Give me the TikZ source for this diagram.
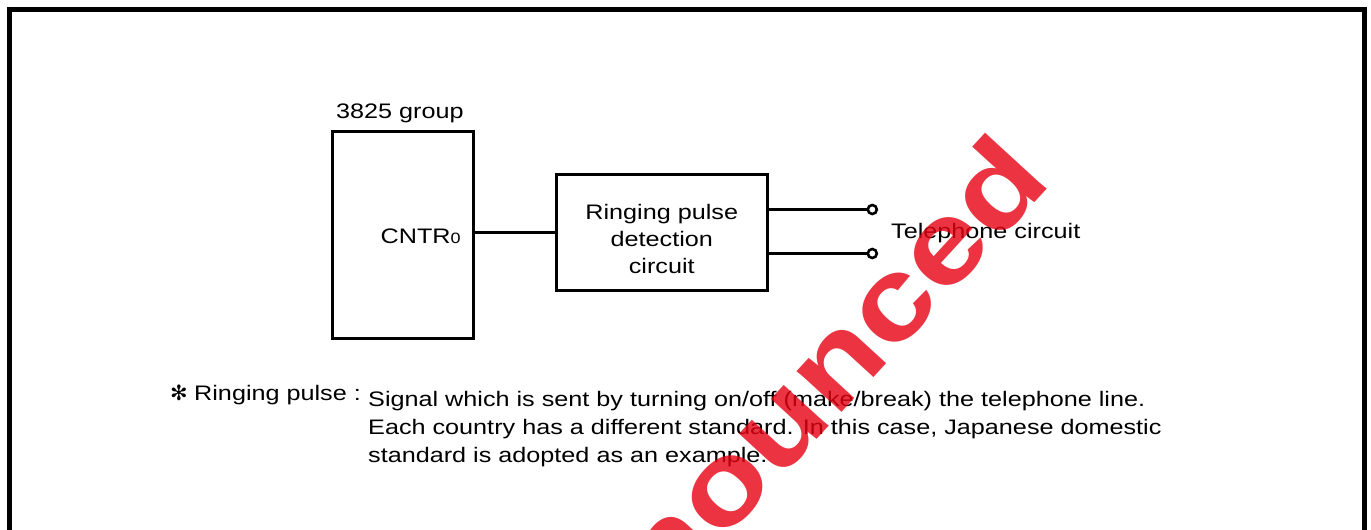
\documentclass[tikz,border=0pt]{standalone}
\usepackage{fontspec}
\setmainfont[FakeStretch=1.2]{Liberation Sans}
\newfontfamily\dingfont{DejaVu Sans}
\usetikzlibrary{calc}
\definecolor{stampred}{RGB}{230,0,18}

\begin{document}
\begin{tikzpicture}[x=1pt,y=-1pt,
    every node/.style={inner sep=0pt,font=\fontsize{21}{27}\selectfont},
    blk/.style={draw,line width=3pt},
    wire/.style={line width=3pt},
    term/.style={draw,circle,line width=2.6pt,minimum size=9pt,fill=white}]
  \useasboundingbox (0,0) rectangle (1371,530);
  \draw[line width=5pt] (9.5,9.5) rectangle (1364.5,560);
  % 3825 side
  \node[blk,minimum width=140.5pt,minimum height=206.5pt] (grp) at (402.75,234.75) {};
  \node[anchor=base west] (grplbl) at (336,118.5) {3825 group};
  \node[anchor=base west] (cntr) at (380.5,243.3) {CNTR{\fontsize{15}{15}\selectfont 0}};
  % detection circuit
  \node[blk,minimum width=210.5pt,minimum height=116pt] (det) at (661.75,232.5) {};
  \node[align=center,yshift=-6pt] (detlbl) at (det.center) {Ringing pulse\\detection\\circuit};
  \node[term] (t1) at (872.3,209.5) {};
  \node[term] (t2) at (872.3,253.5) {};
  \node[anchor=base west] (tel) at (891,238) {Telephone circuit};
  \path[wire]
    (det.west) edge (det.west -| grp.east)
    (det.east |- t1) edge (t1.west)
    (det.east |- t2) edge (t2.west);
  % note
  \node[anchor=base west,font=\dingfont\fontsize{21}{27}\selectfont] (star) at (170,400) {✻};
  \node[anchor=base west] (notekey) at (194,400) {Ringing pulse :};
  \node[anchor=north west,align=left,font=\fontsize{21}{28}\selectfont] (note) at (368,391.5)
    {Signal which is sent by turning on/off (make/break) the telephone line.\\
     Each country has a different standard. In this case, Japanese domestic\\
     standard is adopted as an example.};
  % stamp
  \node[text=stampred,opacity=0.8,font=\bfseries\fontsize{115}{115}\selectfont,rotate=47.5,anchor=base] (wm) at (797,462) {Announced};
\end{tikzpicture}
\end{document}
